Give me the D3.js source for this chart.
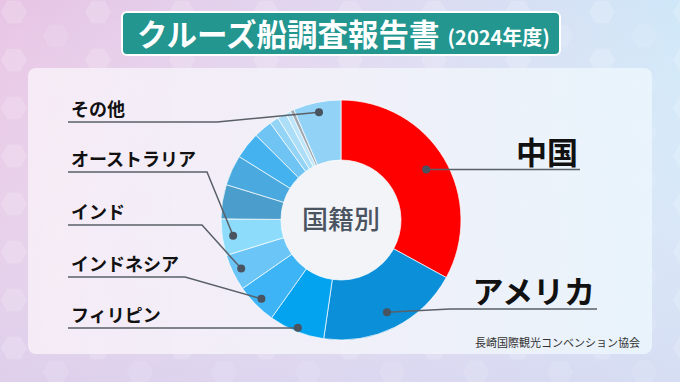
<!DOCTYPE html>
<html>
<head>
<meta charset="utf-8">
<script src="https://cdn.jsdelivr.net/npm/d3@7"></script>
<style>
  body { margin: 0; }
  svg { display: block; font-family: "Noto Sans CJK JP", "Noto Sans", sans-serif; }
</style>
</head>
<body>
<svg id="chart" width="680" height="382"></svg>
<script>
// データ（国籍別 構成比 %、図から読み取り）
var categories = ["中国", "アメリカ", "フィリピン", "インドネシア", "インド", "オーストラリア",
                  null, null, null, null, null, null, null, null, "その他"];
var values = [32.9, 19.3, 7.5, 5.5, 4.9, 4.9, 4.6, 4.1, 3.6, 2.5, 1.2, 1.2, 0.7, 0.5, 6.4];
var colors = ["#ff0000", "#0a8fd8", "#03a3f0", "#3cb4f5", "#6bc6f7", "#8edcfb",
              "#4b9dcb", "#4aa9de", "#45b2f0", "#6fc4f3", "#92d3f6", "#acdef8", "#bde6fa", "#9fa9b3", "#92d2f7"];

var title = "クルーズ船調査報告書";
var subTitle = "(2024年度)";
var centerText = "国籍別";
var source = "長崎国際観光コンベンション協会";

var W = 680, H = 382;
var cx = 341, cy = 220;
var outerR = 120, innerR = 60;

var svg = d3.select("#chart");
var defs = svg.append("defs");

// 背景グラデーション
var bg = defs.append("linearGradient").attr("id", "bg").attr("x1", 0).attr("y1", 0).attr("x2", 1).attr("y2", 0);
bg.append("stop").attr("offset", "0%").attr("stop-color", "#e7c4e4");
bg.append("stop").attr("offset", "45%").attr("stop-color", "#e2d6ef");
bg.append("stop").attr("offset", "100%").attr("stop-color", "#cfe7f8");

var bg2 = defs.append("linearGradient").attr("id", "bg2").attr("x1", 0).attr("y1", 0).attr("x2", 0).attr("y2", 1);
bg2.append("stop").attr("offset", "0%").attr("stop-color", "#ffffff").attr("stop-opacity", 0);
bg2.append("stop").attr("offset", "100%").attr("stop-color", "#d9d6f0").attr("stop-opacity", 0.6);

var panel = defs.append("linearGradient").attr("id", "panel").attr("x1", 0).attr("y1", 0).attr("x2", 1).attr("y2", 0);
panel.append("stop").attr("offset", "0%").attr("stop-color", "#f7eef7");
panel.append("stop").attr("offset", "50%").attr("stop-color", "#f2f2f9");
panel.append("stop").attr("offset", "100%").attr("stop-color", "#eaf5fc");

// 六角形の模様
var hex = defs.append("pattern").attr("id", "hex")
  .attr("patternUnits", "userSpaceOnUse").attr("width", 84).attr("height", 48);
function hexPath(x, y, r) {
  var p = d3.range(6).map(function(i) {
    var a = Math.PI / 3 * i;
    return [x + r * Math.cos(a), y + r * Math.sin(a)];
  });
  return "M" + p.join("L") + "Z";
}
hex.append("path").attr("d", hexPath(14, 12, 13)).attr("fill", "#fff").attr("opacity", 0.16);
hex.append("path").attr("d", hexPath(56, 36, 13)).attr("fill", "#fff").attr("opacity", 0.1);

svg.append("rect").attr("width", W).attr("height", H).attr("fill", "url(#bg)");
svg.append("rect").attr("width", W).attr("height", H).attr("fill", "url(#bg2)");
svg.append("rect").attr("width", W).attr("height", H).attr("fill", "url(#hex)");

// パネル
svg.append("rect")
  .attr("x", 28).attr("y", 68).attr("width", 624).attr("height", 286).attr("rx", 8)
  .attr("fill", "url(#panel)").attr("opacity", 0.9);

// タイトル
svg.append("rect")
  .attr("x", 122).attr("y", 12).attr("width", 438).attr("height", 43).attr("rx", 5)
  .attr("fill", "#22968f").attr("stroke", "#ffffff").attr("stroke-width", 2);
var tt = svg.append("text").attr("x", 137).attr("y", 46).attr("fill", "#ffffff").attr("font-weight", 700);
tt.append("tspan").attr("font-size", 30.5).text(title);
tt.append("tspan").attr("font-size", 20).attr("dx", 8).attr("dy", -1).text(subTitle);

// ドーナツ
var pie = d3.pie().sort(null).value(function(d) { return d; });
var arcs = pie(values);
var arc = d3.arc().innerRadius(innerR).outerRadius(outerR);

var g = svg.append("g").attr("transform", "translate(" + cx + "," + cy + ")");
g.append("circle").attr("r", innerR).attr("fill", "#f3f4f8");
g.selectAll("path.slice")
  .data(arcs)
  .enter()
  .append("path")
  .attr("class", "slice")
  .attr("d", arc)
  .attr("fill", function(d, i) { return colors[i]; })
  .attr("stroke", "#ffffff").attr("stroke-opacity", 0.7).attr("stroke-width", 1);

g.append("text")
  .attr("text-anchor", "middle").attr("dy", "0.36em")
  .attr("font-size", 26).attr("font-weight", 500).attr("fill", "#4a5360")
  .text(centerText);

// ラベル（点の半径、線の折れ位置と文字位置）
var labelLayout = {
  "中国":         { side: "right", dotR: 99,  lineY: null, elbowX: null, endX: 580, size: 31 },
  "アメリカ":     { side: "right", dotR: 103, lineY: 309, elbowX: 450, endX: 597, size: 31 },
  "フィリピン":   { side: "left",  dotR: 116, lineY: 328, elbowX: 290, endX: 68, size: 18 },
  "インドネシア": { side: "left",  dotR: 112, lineY: 277, elbowX: 185, endX: 68, size: 18 },
  "インド":       { side: "left",  dotR: 111, lineY: 225, elbowX: 202, endX: 68, size: 18 },
  "オーストラリア": { side: "left", dotR: 109, lineY: 172, elbowX: 207, endX: 68, size: 18 },
  "その他":       { side: "left",  dotR: 110, lineY: 122, elbowX: 217, endX: 68, size: 18 }
};

arcs.forEach(function(d, i) {
  var name = categories[i];
  if (!name) return;
  var L = labelLayout[name];
  var c = d3.arc().innerRadius(L.dotR).outerRadius(L.dotR).centroid(d);
  var px = cx + c[0], py = cy + c[1];
  var pts;
  if (L.elbowX === null) {
    pts = [[px, py], [L.endX, py]];
  } else {
    pts = [[px, py], [L.elbowX, L.lineY], [L.endX, L.lineY]];
  }
  var ly = L.elbowX === null ? py : L.lineY;
  svg.append("path")
    .attr("d", d3.line()(pts))
    .attr("fill", "none").attr("stroke", "#5a6068").attr("stroke-width", 1.5);
  svg.append("circle").attr("cx", px).attr("cy", py).attr("r", 4).attr("fill", "#4a5360");
  svg.append("text")
    .attr("x", L.side === "right" ? L.endX - 2 : L.endX + 3)
    .attr("y", ly - 6)
    .attr("text-anchor", L.side === "right" ? "end" : "start")
    .attr("font-size", L.size).attr("font-weight", 700).attr("fill", "#111111")
    .text(name);
});

// 出典
svg.append("text")
  .attr("x", 640).attr("y", 347).attr("text-anchor", "end")
  .attr("font-size", 11).attr("fill", "#333333")
  .text(source);
</script>
</body>
</html>
